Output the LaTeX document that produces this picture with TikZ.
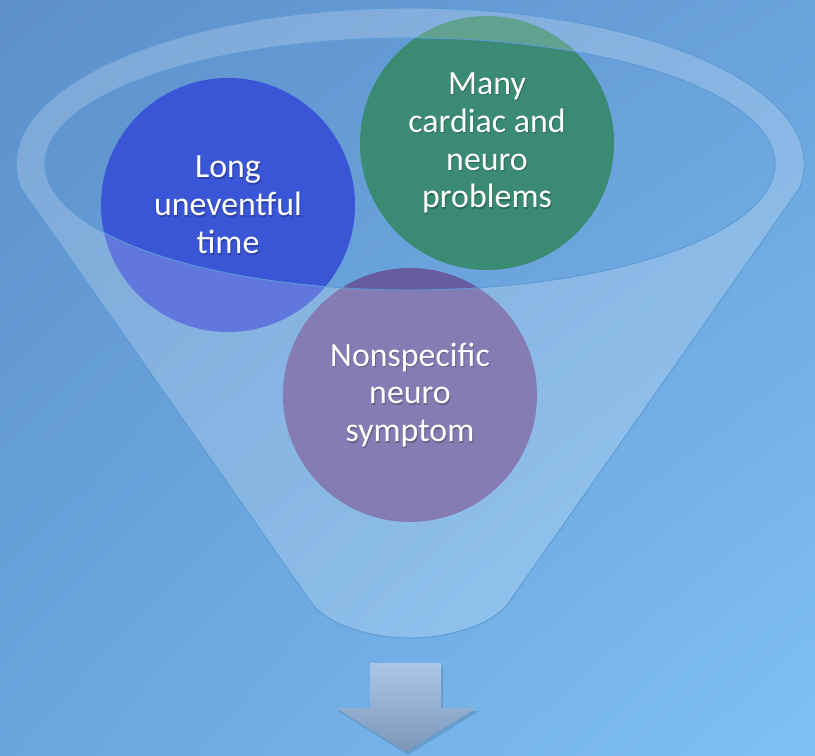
\documentclass[tikz,border=0pt]{standalone}
\usepackage{fontspec}
\setmainfont{Carlito}
\usetikzlibrary{shadings}
\definecolor{bgTL}{RGB}{93,144,203}
\definecolor{bgTR}{RGB}{106,162,220}
\definecolor{bgBL}{RGB}{106,165,222}
\definecolor{bgBR}{RGB}{128,192,244}
\definecolor{cblue}{RGB}{58,85,214}
\definecolor{cgreen}{RGB}{58,138,116}
\definecolor{cpurple}{RGB}{102,92,160}
\definecolor{edge}{RGB}{91,155,213}
\definecolor{arrTop}{RGB}{170,198,233}
\definecolor{arrBot}{RGB}{123,150,184}
\begin{document}
\begin{tikzpicture}[x=1bp,y=1bp,
  bubble/.style={circle, minimum size=254bp, inner sep=0pt, draw=none},
  lbl/.style={text=white, align=center, font=\fontsize{34}{38}\selectfont},
  lblshadow/.style={text=black, text opacity=0.22, align=center, font=\fontsize{34}{38}\selectfont},
  funnelfill/.style={fill=white, fill opacity=0.2},
  funneledge/.style={draw=edge, line width=0.9bp},
  arrowshape/.style={top color=arrTop, bottom color=arrBot}]
\useasboundingbox (0,0) rectangle (815,756);
% background
\shade[upper left=bgTL, upper right=bgTR, lower left=bgBL, lower right=bgBR] (0,0) rectangle (815,756);
% circles
\node[bubble, fill=cblue] (blue) at (228,551) {};
\node[bubble, fill=cgreen] (green) at (487,613) {};
\node[bubble, fill=cpurple] (purple) at (410,361) {};
% funnel overlay
\path[funnelfill, even odd rule]
  (21,568) arc[start angle=188.85, end angle=-8.85, x radius=394, y radius=156]
  -- (507,151) .. controls (490,131) and (450,118) .. (410,118)
  .. controls (370,118) and (330,131) .. (313,151) -- cycle
  (410,592) ellipse [x radius=365, y radius=126];
\draw[funneledge]
  (21,568) arc[start angle=188.85, end angle=-8.85, x radius=394, y radius=156]
  -- (507,151) .. controls (490,131) and (450,118) .. (410,118)
  .. controls (370,118) and (330,131) .. (313,151) -- cycle;
\draw[funneledge] (410,592) ellipse [x radius=365, y radius=126];
% labels
\node[lblshadow] at ([shift={(1,-1.5)}]blue.center) {Long\\uneventful\\time};
\node[lbl] (tblue) at (blue.center) {Long\\uneventful\\time};
\node[lblshadow] at ([shift={(1,-1.5)}]green.center) {Many\\cardiac and\\neuro\\problems};
\node[lbl] (tgreen) at (green.center) {Many\\cardiac and\\neuro\\problems};
\node[lblshadow] at ([shift={(1,-1.5)}]purple.center) {Nonspecific\\neuro\\symptom};
\node[lbl] (tpurple) at (purple.center) {Nonspecific\\neuro\\symptom};
% down arrow
\fill[black, opacity=0.12] (372,90) -- (443,90) -- (443,45) -- (479,45) -- (408,1) -- (338,45) -- (372,45) -- cycle;
\shade[arrowshape] (370,93) -- (441,93) -- (441,48) -- (476,48) -- (406,4) -- (336,48) -- (370,48) -- cycle;
\end{tikzpicture}
\end{document}
